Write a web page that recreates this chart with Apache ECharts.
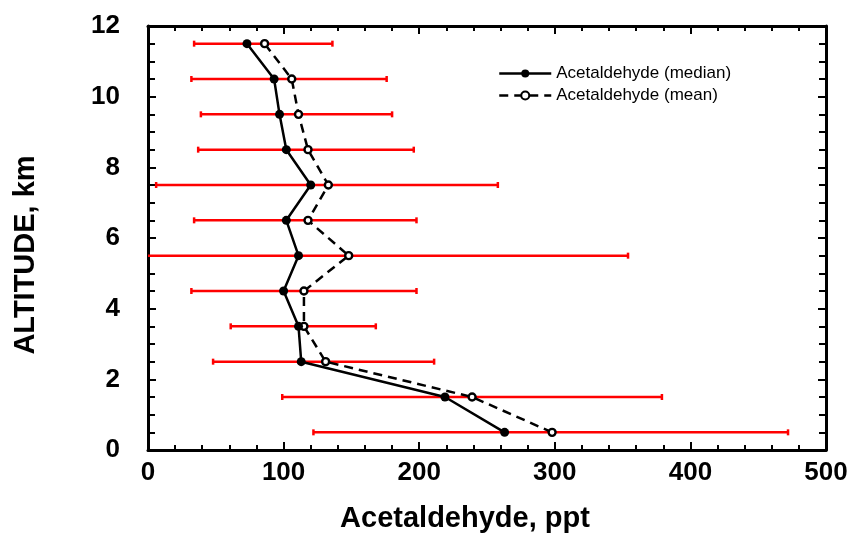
<!DOCTYPE html>
<html>
<head>
<meta charset="utf-8">
<script src="https://cdn.jsdelivr.net/npm/echarts@6/dist/echarts.min.js"></script>
<style>
  html, body { margin: 0; padding: 0; background: #fff; }
  #chart { width: 848px; height: 534px; }
</style>
</head>
<body>
<div id="chart"></div>
<script>
// altitude levels, km
var altitude = [0.5, 1.5, 2.5, 3.5, 4.5, 5.5, 6.5, 7.5, 8.5, 9.5, 10.5, 11.5];
// acetaldehyde, ppt
var medianVals = [263, 219, 113, 111, 100, 111, 102, 120, 102, 97, 93, 73];
var meanVals = [298, 239, 131, 115, 115, 148, 118, 133, 118, 111, 106, 86];
// red bars: mean -/+ 1 sd
var barLow = [122, 99, 48, 61, 32, -58, 34, 6, 37, 39, 32, 34];
var barHigh = [472, 379, 211, 168, 198, 354, 198, 258, 196, 180, 176, 136];

var xTicks = [0, 100, 200, 300, 400, 500];
var yTicks = [0, 2, 4, 6, 8, 10, 12];

var font = '"Liberation Sans", Arial, sans-serif';

function pairs(vals) {
  var out = [];
  for (var i = 0; i < altitude.length; i++) out.push([vals[i], altitude[i]]);
  return out;
}
var barData = [];
for (var i = 0; i < altitude.length; i++) barData.push([barLow[i], barHigh[i], altitude[i]]);

var chart = echarts.init(document.getElementById('chart'));

var boxAxis = {
  axisLine: { show: true, onZero: false, lineStyle: { color: '#000', width: 3 } },
  axisTick: { show: true, inside: true, length: 8, lineStyle: { color: '#000', width: 2 } },
  minorTick: { show: true, length: 5, lineStyle: { color: '#000', width: 2 } },
  splitLine: { show: false },
  minorSplitLine: { show: false }
};

var option = {
  animation: false,
  backgroundColor: '#fff',
  grid: { left: 148, right: 22, top: 26, bottom: 84, containLabel: false, outerBoundsMode: 'none' },
  legend: {
    orient: 'vertical',
    left: 493,
    top: 60,
    itemWidth: 52,
    itemHeight: 10,
    itemGap: 5,
    lineStyle: { width: 2.5 },
    textStyle: { fontFamily: font, fontSize: 17, color: '#000' },
    data: ['Acetaldehyde (median)', 'Acetaldehyde (mean)']
  },
  xAxis: [
    Object.assign({}, boxAxis, {
      type: 'value', min: 0, max: 500, interval: 100,
      minorTick: Object.assign({}, boxAxis.minorTick, { splitNumber: 5 }),
      name: 'Acetaldehyde, ppt',
      nameLocation: 'middle',
      nameGap: 54,
      nameTextStyle: { fontFamily: font, fontSize: 29, fontWeight: 'bold', color: '#000', padding: [0, 44, 0, 0] },
      axisLabel: {
        fontFamily: font, fontSize: 26, fontWeight: 'bold', color: '#000', margin: 10,
        formatter: function (v) { return xTicks.indexOf(v) >= 0 ? String(v) : ''; }
      }
    }),
    Object.assign({}, boxAxis, {
      type: 'value', min: 0, max: 500, interval: 100, position: 'top',
      minorTick: Object.assign({}, boxAxis.minorTick, { splitNumber: 5 }),
      axisLabel: { show: false }
    })
  ],
  yAxis: [
    Object.assign({}, boxAxis, {
      type: 'value', min: 0, max: 12, interval: 2,
      minorTick: Object.assign({}, boxAxis.minorTick, { splitNumber: 4, length: 7 }),
      name: 'ALTITUDE, km',
      nameLocation: 'middle',
      nameGap: 108,
      nameTextStyle: { fontFamily: font, fontSize: 29, fontWeight: 'bold', color: '#000', padding: [0, 34, 0, 0] },
      axisLabel: {
        fontFamily: font, fontSize: 26, fontWeight: 'bold', color: '#000', margin: 28,
        padding: [0, 0, 9, 0],
        formatter: function (v) { return yTicks.indexOf(v) >= 0 ? String(v) : ''; }
      }
    }),
    Object.assign({}, boxAxis, {
      type: 'value', min: 0, max: 12, interval: 2, position: 'right',
      minorTick: Object.assign({}, boxAxis.minorTick, { splitNumber: 4, length: 7 }),
      axisLabel: { show: false }
    })
  ],
  series: [
    {
      name: 'range',
      type: 'custom',
      clip: true,
      z: 1,
      data: barData,
      encode: { x: [0, 1], y: 2 },
      renderItem: function (params, api) {
        var a = api.coord([api.value(0), api.value(2)]);
        var b = api.coord([api.value(1), api.value(2)]);
        var h = 3;
        var st = { stroke: '#ff0000', lineWidth: 2.5 };
        return {
          type: 'group',
          children: [
            { type: 'line', shape: { x1: a[0], y1: a[1], x2: b[0], y2: b[1] }, style: st },
            { type: 'line', shape: { x1: a[0], y1: a[1] - h, x2: a[0], y2: a[1] + h }, style: st },
            { type: 'line', shape: { x1: b[0], y1: b[1] - h, x2: b[0], y2: b[1] + h }, style: st }
          ]
        };
      }
    },
    {
      name: 'Acetaldehyde (median)',
      type: 'line',
      z: 3,
      data: pairs(medianVals),
      symbol: 'circle',
      symbolSize: 9,
      lineStyle: { color: '#000', width: 2.5 },
      itemStyle: { color: '#000' }
    },
    {
      name: 'Acetaldehyde (mean)',
      type: 'line',
      z: 2,
      data: pairs(meanVals),
      symbol: 'circle',
      symbolSize: 7,
      lineStyle: { color: '#000', width: 2.5, type: [9, 6] },
      itemStyle: { color: '#fff', borderColor: '#000', borderWidth: 2.4 }
    }
  ]
};

chart.setOption(option);
</script>
</body>
</html>
